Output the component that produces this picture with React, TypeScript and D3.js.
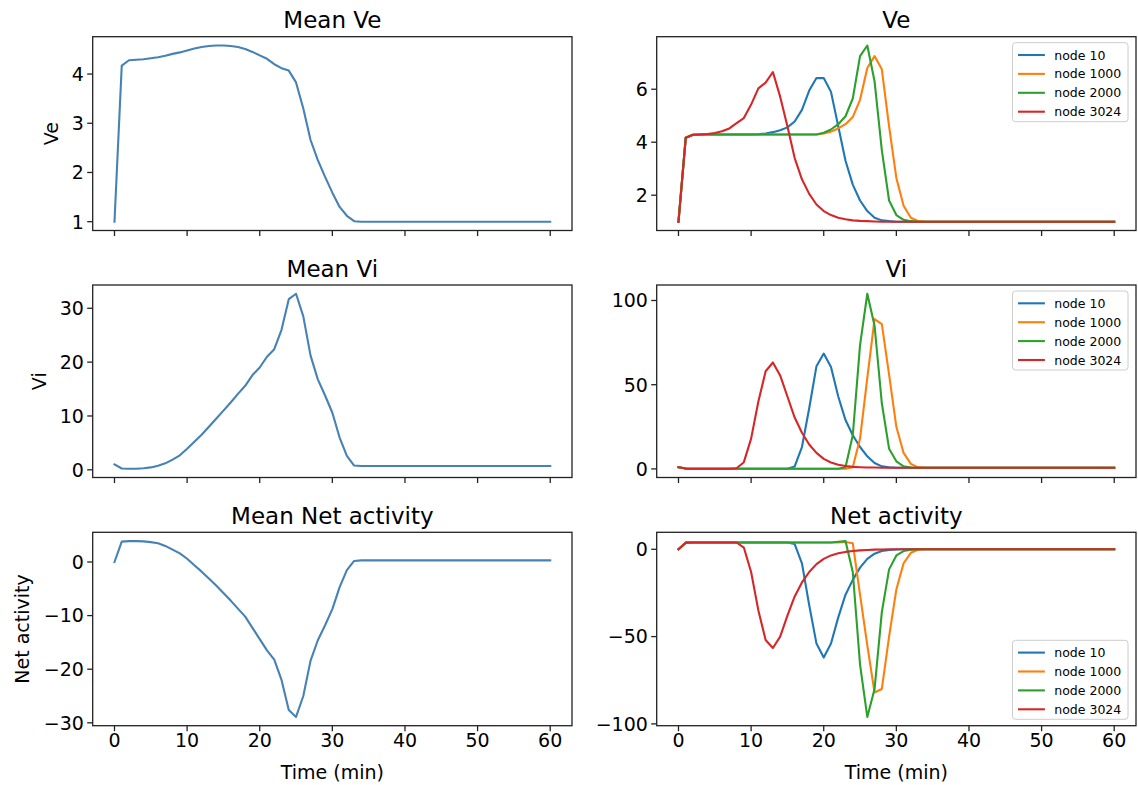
import React from 'react';
import * as d3 from 'd3';

// ---------- data (time in minutes, 0..60) ----------
const time = [
  0, 1, 2, 3, 4, 5, 6, 7, 8, 9,
  10, 11, 12, 13, 14, 15, 16, 17, 18, 19,
  20, 21, 22, 23, 24, 25, 26, 27, 28, 29,
  30, 31, 32, 33, 34, 35, 36, 37, 38, 39,
  40, 41, 42, 43, 44, 45, 46, 47, 48, 49,
  50, 51, 52, 53, 54, 55, 56, 57, 58, 59,
  60,
];

const xTicks = [0, 10, 20, 30, 40, 50, 60];
const nodeLabels = ['node 10', 'node 1000', 'node 2000', 'node 3024'];
const nodeColors = ['#1f77b4', '#ff7f0e', '#2ca02c', '#d62728'];
const meanColor = '#4682b4';

const meanVe = [
  1.0, 4.17, 4.28, 4.29, 4.30, 4.32, 4.34, 4.37, 4.41, 4.44,
  4.48, 4.52, 4.55, 4.57, 4.58, 4.58, 4.57, 4.55, 4.51, 4.45,
  4.38, 4.31, 4.20, 4.12, 4.07, 3.83, 3.30, 2.66, 2.25, 1.91,
  1.59, 1.30, 1.12, 1.01, 1.0, 1.0, 1.0, 1.0, 1.0, 1.0,
  1.0, 1.0, 1.0, 1.0, 1.0, 1.0, 1.0, 1.0, 1.0, 1.0,
  1.0, 1.0, 1.0, 1.0, 1.0, 1.0, 1.0, 1.0, 1.0, 1.0,
  1.0,
];

const meanVi = [
  1.0, 0.25, 0.2, 0.2, 0.3, 0.45, 0.75, 1.2, 1.9, 2.7,
  3.9, 5.2, 6.5, 8.0, 9.5, 11.0, 12.5, 14.1, 15.6, 17.6,
  19.0, 21.0, 22.4, 26.0, 31.7, 32.7, 28.5, 21.2, 16.8, 13.8,
  10.6, 6.0, 2.6, 0.8, 0.7, 0.7, 0.7, 0.7, 0.7, 0.7,
  0.7, 0.7, 0.7, 0.7, 0.7, 0.7, 0.7, 0.7, 0.7, 0.7,
  0.7, 0.7, 0.7, 0.7, 0.7, 0.7, 0.7, 0.7, 0.7, 0.7,
  0.7,
];

const meanNet = [
  0, 3.8, 3.9, 3.9, 3.85, 3.7, 3.5, 3.0, 2.3, 1.6,
  0.6, -0.6, -1.8, -3.1, -4.4, -5.8, -7.2, -8.7, -10.2, -12.3,
  -14.4, -16.5, -18.2, -22.0, -27.6, -28.9, -25.0, -18.4, -14.6, -11.8,
  -8.8, -4.7, -1.5, 0.2, 0.3, 0.3, 0.3, 0.3, 0.3, 0.3,
  0.3, 0.3, 0.3, 0.3, 0.3, 0.3, 0.3, 0.3, 0.3, 0.3,
  0.3, 0.3, 0.3, 0.3, 0.3, 0.3, 0.3, 0.3, 0.3, 0.3,
  0.3,
];

const veNode10 = [
  1.0, 4.17, 4.28, 4.29, 4.29, 4.29, 4.29, 4.29, 4.29, 4.29,
  4.29, 4.30, 4.33, 4.38, 4.45, 4.56, 4.78, 5.22, 5.95, 6.42,
  6.42, 5.9, 4.6, 3.3, 2.4, 1.8, 1.4, 1.15, 1.05, 1.02,
  1.0, 1.0, 1.0, 1.0, 1.0, 1.0, 1.0, 1.0, 1.0, 1.0,
  1.0, 1.0, 1.0, 1.0, 1.0, 1.0, 1.0, 1.0, 1.0, 1.0,
  1.0, 1.0, 1.0, 1.0, 1.0, 1.0, 1.0, 1.0, 1.0, 1.0,
  1.0,
];
const veNode1000 = [
  1.0, 4.17, 4.28, 4.29, 4.29, 4.29, 4.29, 4.29, 4.29, 4.29,
  4.29, 4.29, 4.29, 4.29, 4.29, 4.29, 4.29, 4.29, 4.29, 4.29,
  4.33, 4.40, 4.52, 4.68, 4.95, 5.6, 6.8, 7.25, 6.75, 4.6,
  2.65, 1.6, 1.15, 1.02, 1.0, 1.0, 1.0, 1.0, 1.0, 1.0,
  1.0, 1.0, 1.0, 1.0, 1.0, 1.0, 1.0, 1.0, 1.0, 1.0,
  1.0, 1.0, 1.0, 1.0, 1.0, 1.0, 1.0, 1.0, 1.0, 1.0,
  1.0,
];
const veNode2000 = [
  1.0, 4.17, 4.28, 4.29, 4.29, 4.29, 4.29, 4.29, 4.29, 4.29,
  4.29, 4.29, 4.29, 4.29, 4.29, 4.29, 4.29, 4.29, 4.29, 4.29,
  4.36, 4.48, 4.68, 4.98, 5.65, 7.25, 7.65, 6.3, 3.7, 1.8,
  1.25, 1.07, 1.02, 1.0, 1.0, 1.0, 1.0, 1.0, 1.0, 1.0,
  1.0, 1.0, 1.0, 1.0, 1.0, 1.0, 1.0, 1.0, 1.0, 1.0,
  1.0, 1.0, 1.0, 1.0, 1.0, 1.0, 1.0, 1.0, 1.0, 1.0,
  1.0,
];
const veNode3024 = [
  1.0, 4.17, 4.28, 4.29, 4.31, 4.35, 4.41, 4.52, 4.72, 4.91,
  5.42, 6.03, 6.25, 6.65, 5.72, 4.6, 3.4, 2.6, 2.05, 1.65,
  1.4, 1.25, 1.15, 1.09, 1.05, 1.03, 1.02, 1.01, 1.0, 1.0,
  1.0, 1.0, 1.0, 1.0, 1.0, 1.0, 1.0, 1.0, 1.0, 1.0,
  1.0, 1.0, 1.0, 1.0, 1.0, 1.0, 1.0, 1.0, 1.0, 1.0,
  1.0, 1.0, 1.0, 1.0, 1.0, 1.0, 1.0, 1.0, 1.0, 1.0,
  1.0,
];

const viNode10 = [
  1.0, 0.2, 0.1, 0.1, 0.1, 0.1, 0.1, 0.1, 0.1, 0.1,
  0.1, 0.1, 0.1, 0.1, 0.1, 0.1, 1.5, 13, 36, 61,
  68.5, 60.5, 43, 29, 20, 13, 7.5, 3.5, 1.5, 0.9,
  0.7, 0.7, 0.7, 0.7, 0.7, 0.7, 0.7, 0.7, 0.7, 0.7,
  0.7, 0.7, 0.7, 0.7, 0.7, 0.7, 0.7, 0.7, 0.7, 0.7,
  0.7, 0.7, 0.7, 0.7, 0.7, 0.7, 0.7, 0.7, 0.7, 0.7,
  0.7,
];
const viNode1000 = [
  1.0, 0.2, 0.1, 0.1, 0.1, 0.1, 0.1, 0.1, 0.1, 0.1,
  0.1, 0.1, 0.1, 0.1, 0.1, 0.1, 0.1, 0.1, 0.1, 0.1,
  0.1, 0.1, 0.1, 0.1, 1.0, 18, 54, 89, 86, 56,
  25, 9.5, 3, 0.9, 0.7, 0.7, 0.7, 0.7, 0.7, 0.7,
  0.7, 0.7, 0.7, 0.7, 0.7, 0.7, 0.7, 0.7, 0.7, 0.7,
  0.7, 0.7, 0.7, 0.7, 0.7, 0.7, 0.7, 0.7, 0.7, 0.7,
  0.7,
];
const viNode2000 = [
  1.0, 0.2, 0.1, 0.1, 0.1, 0.1, 0.1, 0.1, 0.1, 0.1,
  0.1, 0.1, 0.1, 0.1, 0.1, 0.1, 0.1, 0.1, 0.1, 0.1,
  0.1, 0.1, 0.1, 1.0, 20, 73.5, 104, 85, 39, 12,
  4.5, 1.5, 0.8, 0.7, 0.7, 0.7, 0.7, 0.7, 0.7, 0.7,
  0.7, 0.7, 0.7, 0.7, 0.7, 0.7, 0.7, 0.7, 0.7, 0.7,
  0.7, 0.7, 0.7, 0.7, 0.7, 0.7, 0.7, 0.7, 0.7, 0.7,
  0.7,
];
const viNode3024 = [
  1.0, 0.2, 0.1, 0.1, 0.1, 0.1, 0.1, 0.1, 0.4, 4,
  18, 40, 58, 63.2, 55.5, 43, 30.5, 21.5, 14.5, 9.5,
  6, 3.8, 2.5, 1.7, 1.2, 1.0, 0.85, 0.8, 0.7, 0.7,
  0.7, 0.7, 0.7, 0.7, 0.7, 0.7, 0.7, 0.7, 0.7, 0.7,
  0.7, 0.7, 0.7, 0.7, 0.7, 0.7, 0.7, 0.7, 0.7, 0.7,
  0.7, 0.7, 0.7, 0.7, 0.7, 0.7, 0.7, 0.7, 0.7, 0.7,
  0.7,
];

const netNode10 = [
  0, 3.8, 3.9, 3.9, 3.9, 3.9, 3.9, 3.9, 3.9, 3.9,
  3.9, 3.9, 3.9, 3.9, 3.9, 3.9, 3.0, -8, -32, -54,
  -62, -54, -39, -26, -17.5, -10.5, -5.5, -2.5, -1.0, -0.4,
  -0.1, 0, 0, 0, 0, 0, 0, 0, 0, 0,
  0, 0, 0, 0, 0, 0, 0, 0, 0, 0,
  0, 0, 0, 0, 0, 0, 0, 0, 0, 0,
  0,
];
const netNode1000 = [
  0, 3.8, 3.9, 3.9, 3.9, 3.9, 3.9, 3.9, 3.9, 3.9,
  3.9, 3.9, 3.9, 3.9, 3.9, 3.9, 3.9, 3.9, 3.9, 3.9,
  3.9, 3.9, 3.9, 4.2, 3.5, -26, -55, -82, -80, -50,
  -23, -8, -2, -0.3, 0, 0, 0, 0, 0, 0,
  0, 0, 0, 0, 0, 0, 0, 0, 0, 0,
  0, 0, 0, 0, 0, 0, 0, 0, 0, 0,
  0,
];
const netNode2000 = [
  0, 3.8, 3.9, 3.9, 3.9, 3.9, 3.9, 3.9, 3.9, 3.9,
  3.9, 3.9, 3.9, 3.9, 3.9, 3.9, 3.9, 3.9, 3.9, 3.9,
  3.9, 3.9, 4.3, 4.7, -13, -66, -96, -80, -36, -11.5,
  -3.5, -1, -0.2, 0, 0, 0, 0, 0, 0, 0,
  0, 0, 0, 0, 0, 0, 0, 0, 0, 0,
  0, 0, 0, 0, 0, 0, 0, 0, 0, 0,
  0,
];
const netNode3024 = [
  0, 3.8, 3.9, 3.9, 3.9, 3.9, 3.9, 3.9, 3.9, 1,
  -13, -35, -52, -56.5, -50, -38, -27, -19, -13, -8.5,
  -5.5, -3.5, -2.3, -1.5, -1.0, -0.6, -0.4, -0.2, -0.1, 0,
  0, 0, 0, 0, 0, 0, 0, 0, 0, 0,
  0, 0, 0, 0, 0, 0, 0, 0, 0, 0,
  0, 0, 0, 0, 0, 0, 0, 0, 0, 0,
  0,
];

const meanVeTicks = [1, 2, 3, 4];
const meanViTicks = [0, 10, 20, 30];
const meanNetTicks = [-30, -20, -10, 0];
const veTicks = [2, 4, 6];
const viTicks = [0, 50, 100];
const netTicks = [-100, -50, 0];

// ---------- layout ----------
const W = 1138;
const H = 785;
const FONT = "'DejaVu Sans', sans-serif";
const COLS = [
  { x0: 92.7, x1: 572 },
  { x0: 656.7, x1: 1136 },
];
const ROWS = [
  { y0: 36.7, y1: 230.5 },
  { y0: 285, y1: 477.5 },
  { y0: 532.3, y1: 725.7 },
];

type Series = { values: number[]; color: string; label?: string };

const fmt = (v: number) => (v < 0 ? '\u2212' + Math.abs(v) : String(v));

function Panel(props: {
  col: number;
  row: number;
  title: string;
  series: Series[];
  yTicks: number[];
  yLabel?: string;
  yLabelX?: number;
  showXLabels: boolean;
  legend?: 'upper' | 'lower';
}) {
  const { x0, x1 } = COLS[props.col];
  const { y0, y1 } = ROWS[props.row];
  const x = d3.scaleLinear().domain([-3, 63]).range([x0, x1]);
  const all = props.series.flatMap((s) => s.values);
  const lo = d3.min(all) as number;
  const hi = d3.max(all) as number;
  const m = (hi - lo) * 0.05;
  const y = d3.scaleLinear().domain([lo - m, hi + m]).range([y1, y0]);
  const line = d3
    .line<number>()
    .x((_, i) => x(time[i]))
    .y((v) => y(v));
  const cx = (x0 + x1) / 2;
  const cy = (y0 + y1) / 2;

  const legendW = 115.5;
  const legendH = 79;
  const lx = x1 - 8 - legendW;
  const ly = props.legend === 'upper' ? y0 + 6 : y1 - 6.4 - legendH;

  return (
    <g>
      <text x={cx} y={y0 - 8.5} textAnchor="middle" fontSize={23} fontFamily={FONT} fill="#000">
        {props.title}
      </text>
      {props.series.map((s, i) => (
        <path key={i} d={line(s.values) || ''} fill="none" stroke={s.color} strokeWidth={2.1} strokeLinejoin="round" strokeLinecap="square" />
      ))}
      <rect x={x0} y={y0} width={x1 - x0} height={y1 - y0} fill="none" stroke="#222" strokeWidth={1.3} />
      {xTicks.map((t) => (
        <g key={'x' + t}>
          <line x1={x(t)} x2={x(t)} y1={y1} y2={y1 + 5.5} stroke="#222" strokeWidth={1.3} />
          {props.showXLabels && (
            <text x={x(t)} y={746.7} textAnchor="middle" fontSize={19} fontFamily={FONT} fill="#000">
              {fmt(t)}
            </text>
          )}
        </g>
      ))}
      {props.yTicks.map((t) => (
        <g key={'y' + t}>
          <line x1={x0 - 5.5} x2={x0} y1={y(t)} y2={y(t)} stroke="#222" strokeWidth={1.3} />
          <text x={x0 - 8.8} y={y(t)} dy="0.36em" textAnchor="end" fontSize={19} fontFamily={FONT} fill="#000">
            {fmt(t)}
          </text>
        </g>
      ))}
      {props.yLabel && (
        <text
          transform={`translate(${props.yLabelX},${cy}) rotate(-90)`}
          dy="0.36em"
          textAnchor="middle"
          fontSize={19}
          fontFamily={FONT}
          fill="#000"
        >
          {props.yLabel}
        </text>
      )}
      {props.showXLabels && (
        <text x={cx} y={779} textAnchor="middle" fontSize={19} fontFamily={FONT} fill="#000">
          Time (min)
        </text>
      )}
      {props.legend && (
        <g>
          <rect x={lx} y={ly} width={legendW} height={legendH} rx={3} fill="#fff" fillOpacity={0.8} stroke="#cccccc" strokeWidth={1} />
          {props.series.map((s, i) => {
            const ry = ly + 12.3 + i * 18.9;
            return (
              <g key={'l' + i}>
                <line x1={lx + 5.5} x2={lx + 32.4} y1={ry} y2={ry} stroke={s.color} strokeWidth={2.1} />
                <text x={lx + 41.8} y={ry} dy="0.36em" fontSize={12.5} fontFamily={FONT} fill="#000">
                  {s.label}
                </text>
              </g>
            );
          })}
        </g>
      )}
    </g>
  );
}

function nodes(vals: number[][]): Series[] {
  return vals.map((v, i) => ({ values: v, color: nodeColors[i], label: nodeLabels[i] }));
}

export default function App() {
  return (
    <svg width={W} height={H} viewBox={`0 0 ${W} ${H}`} style={{ position: 'absolute', left: 0, top: 0, background: '#fff' }}>
      <rect x={0} y={0} width={W} height={H} fill="#fff" />
      <Panel col={0} row={0} title="Mean Ve" series={[{ values: meanVe, color: meanColor }]} yTicks={meanVeTicks} yLabel="Ve" yLabelX={50.7} showXLabels={false} />
      <Panel col={0} row={1} title="Mean Vi" series={[{ values: meanVi, color: meanColor }]} yTicks={meanViTicks} yLabel="Vi" yLabelX={39.5} showXLabels={false} />
      <Panel col={0} row={2} title="Mean Net activity" series={[{ values: meanNet, color: meanColor }]} yTicks={meanNetTicks} yLabel="Net activity" yLabelX={22} showXLabels={true} />
      <Panel col={1} row={0} title="Ve" series={nodes([veNode10, veNode1000, veNode2000, veNode3024])} yTicks={veTicks} showXLabels={false} legend="upper" />
      <Panel col={1} row={1} title="Vi" series={nodes([viNode10, viNode1000, viNode2000, viNode3024])} yTicks={viTicks} showXLabels={false} legend="upper" />
      <Panel col={1} row={2} title="Net activity" series={nodes([netNode10, netNode1000, netNode2000, netNode3024])} yTicks={netTicks} showXLabels={true} legend="lower" />
    </svg>
  );
}
